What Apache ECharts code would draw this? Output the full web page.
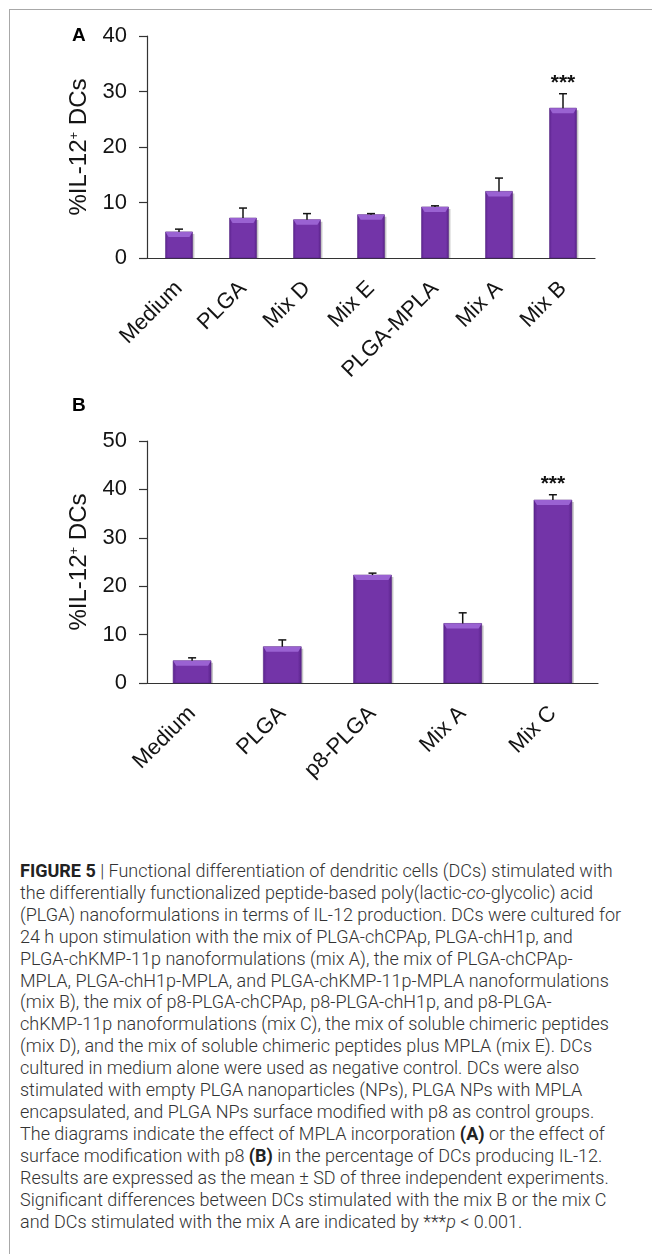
<!DOCTYPE html>
<html>
<head>
<meta charset="utf-8">
<script src="https://cdn.jsdelivr.net/npm/echarts@6/dist/echarts.min.js"></script>
<style>
  html, body { margin: 0; padding: 0; background: #fff; }
  #frame { position: absolute; left: 9px; top: 9px; width: 700px; height: 1300px;
           border-left: 1.5px solid #a8a8a8; border-top: 1.5px solid #a8a8a8; }
  #chart { position: absolute; left: 0; top: 0; width: 652px; height: 790px; }
  #caption { position: absolute; left: 20px; top: 860px; width: 625px;
             font-family: Roboto, "Liberation Sans", sans-serif; font-weight: 300;
             font-size: 18px; line-height: 21.9px; color: #333; white-space: nowrap; }
  #caption b { font-weight: 700; color: #222; }
</style>
</head>
<body>
<div id="frame"></div>
<div id="chart"></div>
<div id="caption">
<b>FIGURE 5</b> | Functional differentiation of dendritic cells (DCs) stimulated with<br>
the differentially functionalized peptide-based poly(lactic-<i>co</i>-glycolic) acid<br>
(PLGA) nanoformulations in terms of IL-12 production. DCs were cultured for<br>
24 h upon stimulation with the mix of PLGA-chCPAp, PLGA-chH1p, and<br>
PLGA-chKMP-11p nanoformulations (mix A), the mix of PLGA-chCPAp-<br>
MPLA, PLGA-chH1p-MPLA, and PLGA-chKMP-11p-MPLA nanoformulations<br>
(mix B), the mix of p8-PLGA-chCPAp, p8-PLGA-chH1p, and p8-PLGA-<br>
chKMP-11p nanoformulations (mix C), the mix of soluble chimeric peptides<br>
(mix D), and the mix of soluble chimeric peptides plus MPLA (mix E). DCs<br>
cultured in medium alone were used as negative control. DCs were also<br>
stimulated with empty PLGA nanoparticles (NPs), PLGA NPs with MPLA<br>
encapsulated, and PLGA NPs surface modified with p8 as control groups.<br>
The diagrams indicate the effect of MPLA incorporation <b>(A)</b> or the effect of<br>
surface modification with p8 <b>(B)</b> in the percentage of DCs producing IL-12.<br>
Results are expressed as the mean &plusmn; SD of three independent experiments.<br>
Significant differences between DCs stimulated with the mix B or the mix C<br>
and DCs stimulated with the mix A are indicated by ***<i>p</i> &lt; 0.001.
</div>
<script>
// Panel A: effect of MPLA incorporation
const catsA = ['Medium', 'PLGA', 'Mix D', 'Mix E', 'PLGA-MPLA', 'Mix A', 'Mix B'];
const meanA = [4.7, 7.2, 6.9, 7.8, 9.2, 12.0, 27.0];
const sdA   = [0.5, 1.8, 1.1, 0.2, 0.2, 2.4, 2.6];
const sigA  = ['', '', '', '', '', '', '***'];

// Panel B: effect of p8 surface modification
const catsB = ['Medium', 'PLGA', 'p8-PLGA', 'Mix A', 'Mix C'];
const meanB = [4.6, 7.5, 22.3, 12.3, 37.8];
const sdB   = [0.6, 1.4, 0.4, 2.2, 1.1];
const sigB  = ['', '', '', '', '***'];

// y-axis ranges
const yMaxA = 40, yMaxB = 50, yStep = 10;

const FONT = '"Liberation Sans", Arial, sans-serif';
const INK = '#141414';

function rows(means, sds) {
  return means.map((m, i) => [i, m, sds[i]]);
}

// Bevelled purple bar with an upper SD whisker and optional significance mark
function makeRenderer(sig) {
  return function (params, api) {
    const i = api.value(0), v = api.value(1), sd = api.value(2);
    const top = api.coord([i, v]);
    const base = api.coord([i, 0]);
    const errY = api.coord([i, v + sd])[1];
    const bw = api.size([1, 0])[0] * 0.42;
    const x0 = top[0] - bw / 2, x1 = top[0] + bw / 2;
    const y0 = top[1], y1 = base[1];
    const bev = Math.min(5, (y1 - y0) / 2);
    const kids = [
      { type: 'rect', shape: { x: x0 + 2, y: y0 + 2, width: bw, height: y1 - y0 - 2 },
        style: { fill: 'rgba(0,0,0,0.22)' } },
      { type: 'rect', shape: { x: x0, y: y0, width: bw, height: y1 - y0 },
        style: {
          fill: new echarts.graphic.LinearGradient(0, 0, 1, 0, [
            { offset: 0, color: '#5c2490' },
            { offset: 0.1, color: '#7334a8' },
            { offset: 0.9, color: '#7334a8' },
            { offset: 1, color: '#582289' }
          ]),
          stroke: '#53217f', lineWidth: 0.6
        } },
      { type: 'polygon', shape: { points: [[x0, y0], [x1, y0], [x1 - 3, y0 + bev], [x0 + 3, y0 + bev]] },
        style: { fill: '#9a62d2' } },
      { type: 'line', shape: { x1: top[0], y1: y0, x2: top[0], y2: errY },
        style: { stroke: INK, lineWidth: 1.5 } },
      { type: 'line', shape: { x1: top[0] - 4, y1: errY, x2: top[0] + 4, y2: errY },
        style: { stroke: INK, lineWidth: 1.5 } }
    ];
    if (sig[i]) {
      kids.push({ type: 'text', style: {
        text: sig[i], x: top[0], y: errY - 11, align: 'center', verticalAlign: 'middle',
        font: 'bold 21px ' + FONT, fill: '#111'
      } });
    }
    return { type: 'group', children: kids };
  };
}

function xAxisFor(cats, grid) {
  return {
    type: 'category', gridIndex: grid, data: cats,
    axisLine: { lineStyle: { color: '#333', width: 1.2 } },
    axisTick: { length: 8, lineStyle: { color: '#333', width: 1.2 } },
    axisLabel: { rotate: 45, interval: 0, fontSize: 22, fontFamily: FONT, color: INK, margin: 27 }
  };
}

function yAxisFor(max, grid) {
  return {
    type: 'value', gridIndex: grid, min: 0, max: max, interval: yStep,
    name: '{a|%IL-12}{s|+}{a| DCs}',
    nameLocation: 'middle', nameGap: 56,
    nameTextStyle: {
      fontFamily: FONT, color: INK,
      rich: {
        a: { fontSize: 24, fontFamily: FONT, color: INK },
        s: { fontSize: 13, fontFamily: FONT, color: INK, padding: [0, 0, 10, 0] }
      }
    },
    axisLine: { show: true, lineStyle: { color: '#333', width: 1.2 } },
    axisTick: { show: true, length: 8, lineStyle: { color: '#333', width: 1.2 } },
    splitLine: { show: false },
    axisLabel: { fontSize: 22, fontFamily: FONT, color: INK, margin: 20 }
  };
}

const chart = echarts.init(document.getElementById('chart'), null, { renderer: 'canvas' });
chart.setOption({
  animation: false,
  backgroundColor: 'transparent',
  grid: [
    { left: 147, top: 36, width: 448, height: 222 },
    { left: 147, top: 441, width: 451, height: 242 }
  ],
  xAxis: [xAxisFor(catsA, 0), xAxisFor(catsB, 1)],
  yAxis: [yAxisFor(yMaxA, 0), yAxisFor(yMaxB, 1)],
  graphic: [
    { type: 'text', left: 72, top: 26, style: { text: 'A', font: 'bold 19px ' + FONT, fill: '#000' } },
    { type: 'text', left: 72, top: 396, style: { text: 'B', font: 'bold 19px ' + FONT, fill: '#000' } }
  ],
  series: [
    { type: 'custom', xAxisIndex: 0, yAxisIndex: 0, data: rows(meanA, sdA),
      encode: { x: 0, y: 1 }, renderItem: makeRenderer(sigA), clip: false },
    { type: 'custom', xAxisIndex: 1, yAxisIndex: 1, data: rows(meanB, sdB),
      encode: { x: 0, y: 1 }, renderItem: makeRenderer(sigB), clip: false }
  ]
});
</script>
</body>
</html>
